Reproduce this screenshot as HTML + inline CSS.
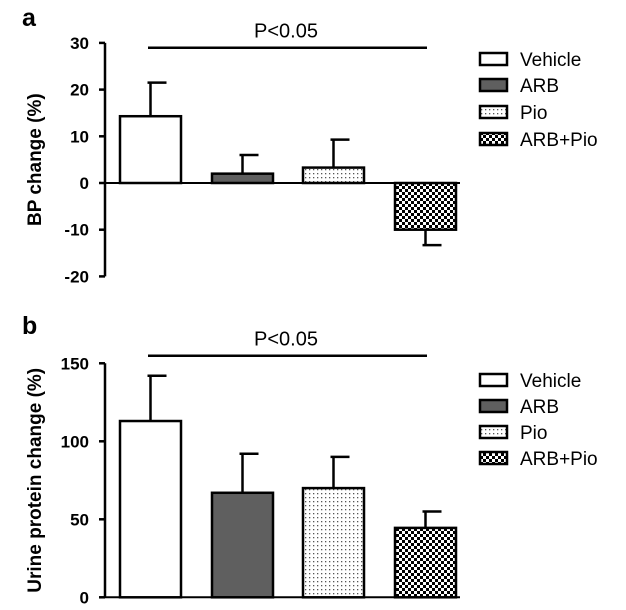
<!DOCTYPE html>
<html><head><meta charset="utf-8"><style>
body{margin:0;background:#fff;}
svg{display:block;font-family:"Liberation Sans",Arial,sans-serif;}
</style></head><body>
<svg id="chart" width="626" height="610" viewBox="0 0 626 610">
<defs>
<pattern id="dots" width="4" height="4" patternUnits="userSpaceOnUse"><rect width="4" height="4" fill="#fff"/><rect x="1" y="1" width="1.3" height="1.3" fill="#555"/></pattern>
<pattern id="check" width="6" height="6" patternUnits="userSpaceOnUse"><rect width="6" height="6" fill="#fff"/><rect width="3" height="3" fill="#000"/><rect x="3" y="3" width="3" height="3" fill="#000"/></pattern>
</defs>
</svg>
<script>
const groups = ["Vehicle","ARB","Pio","ARB+Pio"];
const bpValues = [14.3, 2, 3.3, -10];
const bpErrors = [21.5, 6, 9.3, -13.3];
const bpTicks = [30, 20, 10, 0, -10, -20];
const upValues = [113, 67, 70, 44.5];
const upErrors = [142, 92, 90, 55];
const upTicks = [150, 100, 50, 0];

const NS = "http://www.w3.org/2000/svg";
const svg = document.getElementById('chart');
const fills = ["#fff","#5f5f5f","url(#dots)","url(#check)"];
function mk(tag, attrs, parent){const e=document.createElementNS(NS,tag);for(const k in attrs)e.setAttribute(k,attrs[k]);(parent||svg).appendChild(e);return e;}

function panel(cfg){
  const g = mk('g',{});
  
  
  const y = v => cfg.y0 + (v - cfg.v0) * cfg.scale;
  const axisX = 105;
  const yMin = Math.min(...cfg.ticks), yMax = Math.max(...cfg.ticks);
  const ax = mk('line',{x1:axisX,x2:axisX,y1:y(yMax),y2:y(yMin),stroke:'#000','stroke-width':2.5},g);
  
  
  cfg.ticks.forEach(t=>{
    const tk = mk('line',{x1:axisX-6,x2:axisX,y1:y(t),y2:y(t),stroke:'#000','stroke-width':2.5},g);
    
    
    const tl = mk('text',{x:axisX-16,y:y(t)+6,'text-anchor':'end','font-size':17,'font-weight':'bold'},g);
    tl.textContent = t;
    
    
  });
  const zl = mk('line',{x1:axisX,x2:460,y1:y(0),y2:y(0),stroke:'#000','stroke-width':2},g);
  
  
  const ttl = mk('text',{x:0,y:0,'text-anchor':'middle','font-size':19,'font-weight':'bold',transform:`translate(${cfg.titleX},${(y(yMax)+y(yMin))/2}) rotate(-90)`},g);
  ttl.textContent = cfg.title;
  
  
  const lab = mk('text',{x:22,y:cfg.labelY,'font-size':25,'font-weight':'bold'},g);
  lab.textContent = cfg.letter;
  
  
  const starts=[120,212,303,395], w=61;
  cfg.values.forEach((v,i)=>{
    const cx = starts[i]+w/2;
    const e = cfg.errors[i];
    const st = mk('line',{x1:cx,x2:cx,y1:y(v),y2:y(e),stroke:'#000','stroke-width':2.5},g);
    
    
    const cp = mk('line',{x1:cx-3,x2:cx+16,y1:y(e),y2:y(e),stroke:'#000','stroke-width':2.5},g);
    
    
    const top = Math.min(y(v),y(0)), h=Math.abs(y(v)-y(0));
    const b = mk('rect',{x:starts[i],y:top,width:w,height:h,fill:fills[i],stroke:'#000','stroke-width':2.5},g);
    
    
  });
  const pl = mk('line',{x1:148,x2:427,y1:cfg.pY,y2:cfg.pY,stroke:'#000','stroke-width':2.5},g);
  
  
  const pt = mk('text',{x:286,y:cfg.pY-10,'text-anchor':'middle','font-size':20},g);
  pt.textContent='P<0.05';
  
  
  groups.forEach((name,i)=>{
    const ly = cfg.legY[i];
    const lr = mk('rect',{x:480,y:ly-6,width:27,height:12,fill:fills[i],stroke:'#000','stroke-width':2.5},g);
    
    
    const lt = mk('text',{x:520,y:ly+7,'font-size':19},g);
    lt.textContent=name;
    
    
  });
}
panel({name:'bp-panel',letter:'a',labelY:26,title:'BP change (%)',titleX:41,values:bpValues,errors:bpErrors,ticks:bpTicks,y0:183,v0:0,scale:-4.67,pY:47.7,legY:[59,85,112,139]});
panel({name:'urine-protein-panel',letter:'b',labelY:334,title:'Urine protein change (%)',titleX:41,values:upValues,errors:upErrors,ticks:upTicks,y0:597.3,v0:0,scale:-1.56,pY:355.7,legY:[380,406,432,458]});
</script>
</body></html>
